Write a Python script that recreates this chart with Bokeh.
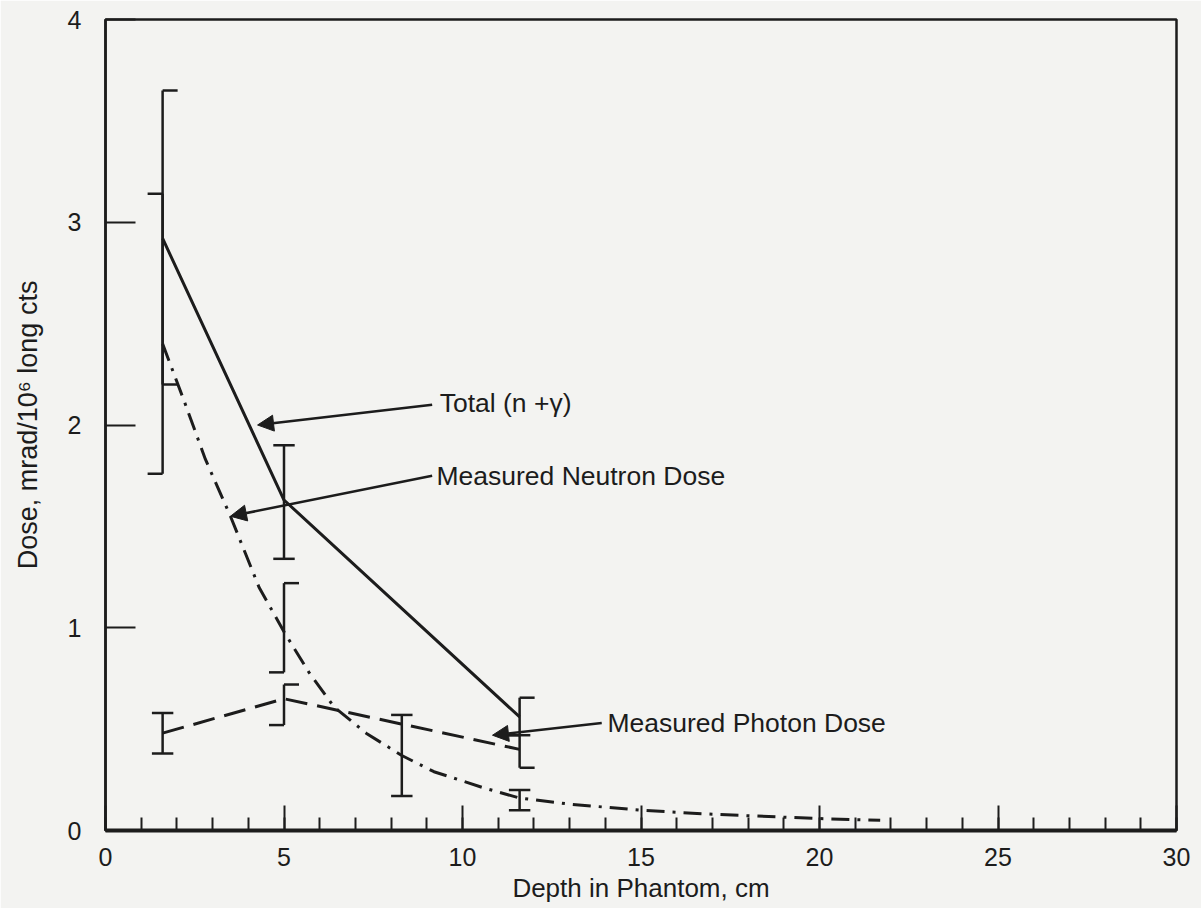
from bokeh.plotting import figure
from bokeh.models import Range1d, FixedTicker, Arrow, NormalHead, ColumnDataSource
from bokeh.core.properties import value
from bokeh.embed import file_html
from bokeh.resources import INLINE

# ---------------- data ----------------
# Total (n + gamma): solid line with error bars
total_x = [1.6, 5.0, 11.6]
total_y = [2.92, 1.63, 0.56]
total_lo = [2.20, 1.34, 0.47]
total_hi = [3.65, 1.90, 0.655]

# Measured neutron dose: dash-dot curve
neutron_x = [1.6, 2.2, 2.8, 3.5, 4.3, 5.0, 5.7, 6.4, 7.3, 8.3, 9.2, 10.6,
             11.6, 13.0, 15.0, 17.0, 19.8, 21.7]
neutron_y = [2.40, 2.12, 1.83, 1.55, 1.20, 0.98, 0.78, 0.61, 0.48, 0.37, 0.29, 0.21,
             0.16, 0.13, 0.10, 0.08, 0.06, 0.05]
neutron_err_x = [1.6, 5.0, 8.3, 11.6]
neutron_lo = [1.76, 0.78, 0.17, 0.10]
neutron_hi = [3.14, 1.22, 0.57, 0.20]

# Measured photon dose: dashed line
photon_x = [1.6, 5.0, 11.6]
photon_y = [0.48, 0.65, 0.40]
photon_lo = [0.38, 0.52, 0.31]
photon_hi = [0.58, 0.72, 0.47]

# tick values
x_ticks = [0, 5, 10, 15, 20, 25, 30]
x_minor = list(range(0, 31))
y_ticks = [0, 1, 2, 3, 4]

# annotation labels and their anchor / arrow-tip positions (data units)
label_text = ["Total (n +\u03b3)", "Measured Neutron Dose", "Measured Photon Dose"]
label_x = [9.36, 9.27, 14.06]
label_y = [2.11, 1.75, 0.53]
arrow_tail_x = [9.15, 9.15, 13.9]
arrow_tail_y = [2.10, 1.75, 0.53]
arrow_tip_x = [4.26, 3.50, 10.84]
arrow_tip_y = [2.00, 1.55, 0.47]

# cap side of each error bar (style): top cap, bottom cap
total_caps = [("r", "r"), ("f", "f"), ("r", "l")]
neutron_caps = [("l", "l"), ("r", "l"), ("f", "f"), ("f", "f")]
photon_caps = [("f", "f"), ("r", "l"), ("f", "r")]

INK = "#1c1c1c"
BG = "#f3f3f1"
FONT = "Liberation Sans"

p = figure(width=1201, height=908, x_range=Range1d(0, 30), y_range=Range1d(0, 4),
           output_backend="svg", toolbar_location=None,
           min_border_left=105, min_border_right=25, min_border_top=19, min_border_bottom=78,
           background_fill_color=BG, border_fill_color=BG)
p.grid.visible = False
p.outline_line_color = INK
p.outline_line_width = 2.5

# axes
xa = p.xaxis[0]
xa.ticker = FixedTicker(ticks=x_ticks, minor_ticks=x_minor)
xa.axis_line_width = 4
xa.axis_line_color = INK
xa.major_tick_in = 25
xa.major_tick_out = 0
xa.minor_tick_in = 13
xa.minor_tick_out = 0
xa.major_tick_line_width = 2
xa.minor_tick_line_width = 2
xa.major_tick_line_color = INK
xa.minor_tick_line_color = INK
xa.major_label_text_font = FONT
xa.major_label_text_font_size = "25px"
xa.major_label_text_color = INK
xa.major_label_standoff = 17
xa.axis_label = "Depth in Phantom, cm"
xa.axis_label_text_font = FONT
xa.axis_label_text_font_style = "normal"
xa.axis_label_text_font_size = "26px"
xa.axis_label_text_color = INK
xa.axis_label_standoff = 4

ya = p.yaxis[0]
ya.ticker = FixedTicker(ticks=y_ticks, minor_ticks=[])
ya.axis_line_width = 2.5
ya.axis_line_color = INK
ya.major_tick_in = 30
ya.major_tick_out = 0
ya.minor_tick_line_color = None
ya.major_tick_line_width = 2
ya.major_tick_line_color = INK
ya.major_label_text_font = FONT
ya.major_label_text_font_size = "25px"
ya.major_label_text_color = INK
ya.major_label_standoff = 24
ya.axis_label = "Dose, mrad/10\u2076 long cts"
ya.axis_label_text_font = FONT
ya.axis_label_text_font_style = "normal"
ya.axis_label_text_font_size = "27px"
ya.axis_label_text_color = INK
ya.axis_label_standoff = 22

# curves
p.line(total_x, total_y, line_color=INK, line_width=3)
p.line(neutron_x, neutron_y, line_color=INK, line_width=3, line_dash="18 8 3 8")
p.line(photon_x, photon_y, line_color=INK, line_width=3, line_dash="22 10")


def error_bars(xs, lo, hi, caps):
    p.segment(x0=xs, y0=lo, x1=xs, y1=hi, line_color=INK, line_width=2.5)
    half = 0.3
    side = 0.42
    cx0, cx1, cy = [], [], []
    for x, l, h, (ct, cb) in zip(xs, lo, hi, caps):
        for yv, s in ((h, ct), (l, cb)):
            if s == "f":
                a, b = x - half, x + half
            elif s == "r":
                a, b = x, x + side
            else:
                a, b = x - side, x
            cx0.append(a)
            cx1.append(b)
            cy.append(yv)
    p.segment(x0=cx0, y0=cy, x1=cx1, y1=cy, line_color=INK, line_width=2.5)


error_bars(total_x, total_lo, total_hi, total_caps)
error_bars(neutron_err_x, neutron_lo, neutron_hi, neutron_caps)
error_bars(photon_x, photon_lo, photon_hi, photon_caps)

# annotation arrows
for x0, y0, x1, y1 in zip(arrow_tail_x, arrow_tail_y, arrow_tip_x, arrow_tip_y):
    p.add_layout(Arrow(end=NormalHead(size=16, fill_color=INK, line_color=INK),
                       x_start=x0, y_start=y0, x_end=x1, y_end=y1,
                       line_color=INK, line_width=2.5))

src = ColumnDataSource(dict(x=label_x, y=label_y, t=label_text))
p.text(x="x", y="y", text="t", source=src, text_font=value(FONT),
       text_font_size="26.5px", text_color=INK, text_align="left", text_baseline="middle")

open("out.html", "w").write(file_html(p, INLINE))
